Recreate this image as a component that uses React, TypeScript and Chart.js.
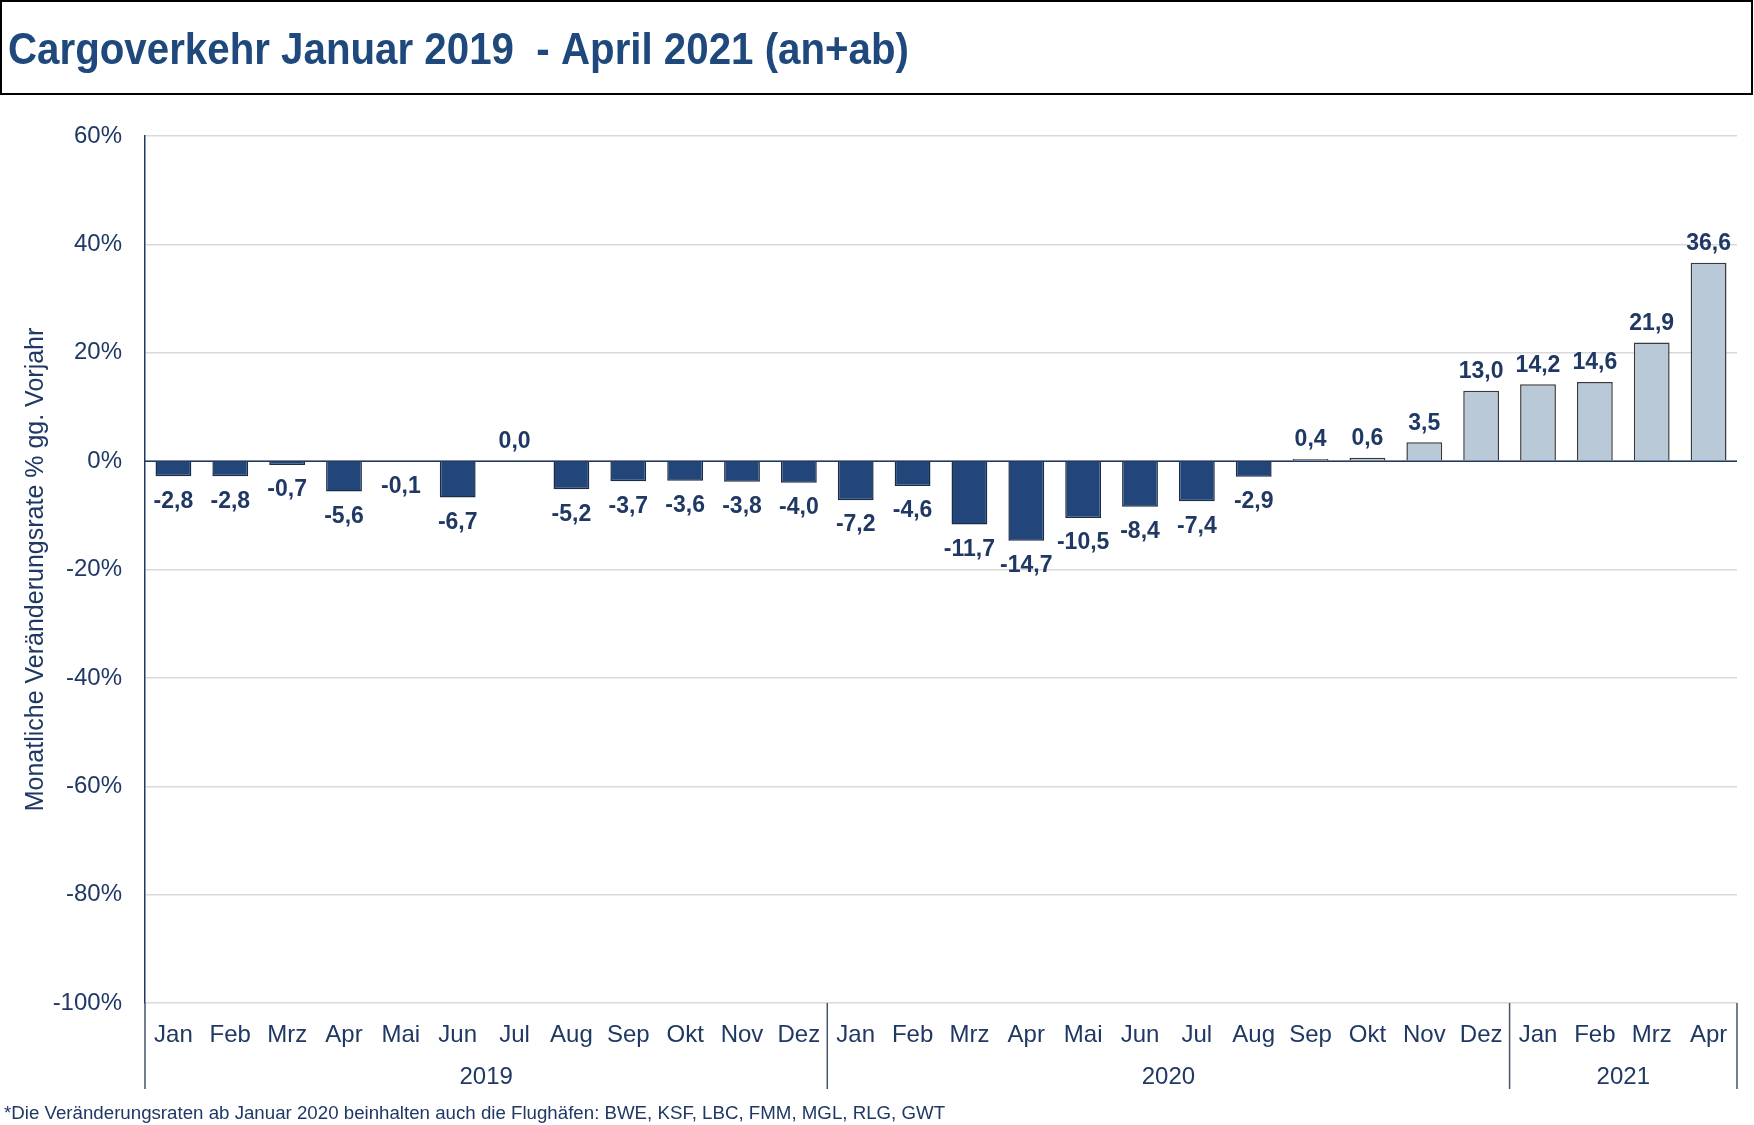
import React, { useEffect, useRef } from 'react';
import { Chart, registerables } from 'chart.js';

Chart.register(...registerables);

const months = ['Jan', 'Feb', 'Mrz', 'Apr', 'Mai', 'Jun', 'Jul', 'Aug', 'Sep', 'Okt', 'Nov', 'Dez',
  'Jan', 'Feb', 'Mrz', 'Apr', 'Mai', 'Jun', 'Jul', 'Aug', 'Sep', 'Okt', 'Nov', 'Dez',
  'Jan', 'Feb', 'Mrz', 'Apr'];
const values = [-2.8, -2.8, -0.7, -5.6, -0.1, -6.7, 0.0, -5.2, -3.7, -3.6, -3.8, -4.0,
  -7.2, -4.6, -11.7, -14.7, -10.5, -8.4, -7.4, -2.9, 0.4, 0.6, 3.5, 13.0,
  14.2, 14.6, 21.9, 36.6];
const years = ['2019', '2020', '2021'];
const monthsPerYear = [12, 12, 4];
const darkBarCount = 20;
const yMin = -100;
const yMax = 60;
const yStep = 20;

const titleText = 'Cargoverkehr Januar 2019  - April 2021 (an+ab)';
const yTitle = 'Monatliche Veränderungsrate % gg. Vorjahr';
const footnote = '*Die Veränderungsraten ab Januar 2020 beinhalten auch die Flughäfen: BWE, KSF, LBC, FMM, MGL, RLG, GWT';

const FONT = '"Liberation Sans", Arial, sans-serif';
const NAVY = '#1F3864';
const TITLE_BLUE = '#1F497D';
const DARK_BAR = '#22467A';
const LIGHT_BAR = '#B9C9D8';

const fmt = (v: number) => v.toFixed(1).replace('.', ',');

const decor = {
  id: 'decor',
  beforeDraw(chart: any) {
    const ctx = chart.ctx;
    ctx.save();
    ctx.fillStyle = '#fff';
    ctx.fillRect(0, 0, chart.width, chart.height);
    ctx.strokeStyle = '#000';
    ctx.lineWidth = 2;
    ctx.strokeRect(1, 1, chart.width - 3, 93);
    ctx.fillStyle = TITLE_BLUE;
    ctx.font = `bold 45px ${FONT}`;
    ctx.textBaseline = 'alphabetic';
    ctx.textAlign = 'left';
    const w = ctx.measureText(titleText).width;
    ctx.translate(8, 64);
    ctx.scale(901 / w, 1);
    ctx.fillText(titleText, 0, 0);
    ctx.restore();
  },
  afterDatasetsDraw(chart: any) {
    const ctx = chart.ctx;
    const y = chart.scales.y;
    const area = chart.chartArea;
    const y0 = y.getPixelForValue(0);
    ctx.save();
    ctx.strokeStyle = NAVY;
    ctx.lineWidth = 1.5;
    ctx.beginPath();
    ctx.moveTo(area.left, y0);
    ctx.lineTo(area.right, y0);
    ctx.stroke();

    const meta = chart.getDatasetMeta(0);
    ctx.fillStyle = NAVY;
    ctx.font = `bold 23px ${FONT}`;
    ctx.textAlign = 'center';
    ctx.textBaseline = 'middle';
    meta.data.forEach((bar: any, i: number) => {
      const v = values[i];
      const ty = v >= 0 ? bar.y - 19 : bar.y + 25;
      ctx.fillText(fmt(v), bar.x, ty);
    });
    ctx.restore();
  },
  afterDraw(chart: any) {
    const ctx = chart.ctx;
    const x = chart.scales.x;
    const area = chart.chartArea;
    const step = x.getPixelForValue(1) - x.getPixelForValue(0);
    const boundary = (i: number) => x.getPixelForValue(i) - step / 2;
    ctx.save();
    ctx.strokeStyle = '#44546A';
    ctx.lineWidth = 1.5;
    let idx = 0;
    const bounds = [0];
    monthsPerYear.forEach((n) => { idx += n; bounds.push(idx); });
    bounds.forEach((b) => {
      const bx = b === 0 ? area.left : boundary(b);
      ctx.beginPath();
      ctx.moveTo(bx, area.bottom);
      ctx.lineTo(bx, 1089);
      ctx.stroke();
    });
    ctx.fillStyle = NAVY;
    ctx.font = `24px ${FONT}`;
    ctx.textAlign = 'center';
    ctx.textBaseline = 'middle';
    years.forEach((yr, k) => {
      const a = bounds[k] === 0 ? area.left : boundary(bounds[k]);
      const b = boundary(bounds[k + 1]);
      ctx.fillText(yr, (a + b) / 2, 1077);
    });
    ctx.font = `18.7px ${FONT}`;
    ctx.textAlign = 'left';
    ctx.fillText(footnote, 4, 1114);
    ctx.restore();
  },
};

export default function App() {
  const ref = useRef<HTMLCanvasElement | null>(null);
  useEffect(() => {
    document.body.style.margin = '0';
    if (!ref.current) return;
    const chart = new Chart(ref.current, {
      type: 'bar',
      data: {
        labels: months,
        datasets: [{
          data: values,
          backgroundColor: values.map((_, i) => (i < darkBarCount ? DARK_BAR : LIGHT_BAR)),
          borderColor: values.map((_, i) => (i < darkBarCount ? '#1A2C48' : '#3A3A3A')),
          borderWidth: 1.5,
          categoryPercentage: 1,
          barPercentage: 0.63,
        }],
      },
      options: {
        responsive: false,
        animation: false,
        devicePixelRatio: 1,
        layout: { padding: { top: 136, right: 17, left: 0, bottom: 0 } },
        plugins: { legend: { display: false }, tooltip: { enabled: false }, title: { display: false } },
        scales: {
          x: {
            grid: { display: false },
            border: { display: false },
            ticks: { color: NAVY, font: { family: FONT, size: 24 }, padding: 10, maxRotation: 0, autoSkip: false },
            afterFit: (s: any) => { s.height = 122; },
          },
          y: {
            min: yMin,
            max: yMax,
            ticks: {
              stepSize: yStep,
              color: NAVY,
              font: { family: FONT, size: 24 },
              padding: 23,
              callback: (v: any) => `${v}%`,
            },
            grid: { color: '#D9D9D9', lineWidth: 1.5, drawTicks: false },
            border: { display: true, color: NAVY, width: 1.5 },
            title: { display: true, text: yTitle, color: NAVY, font: { family: FONT, size: 25 }, padding: { top: 21, bottom: 0 } },
            afterFit: (s: any) => { s.width = 145; },
          },
        },
      },
      plugins: [decor],
    });
    return () => chart.destroy();
  }, []);
  return <canvas ref={ref} width={1754} height={1125} style={{ display: 'block' }} />;
}
